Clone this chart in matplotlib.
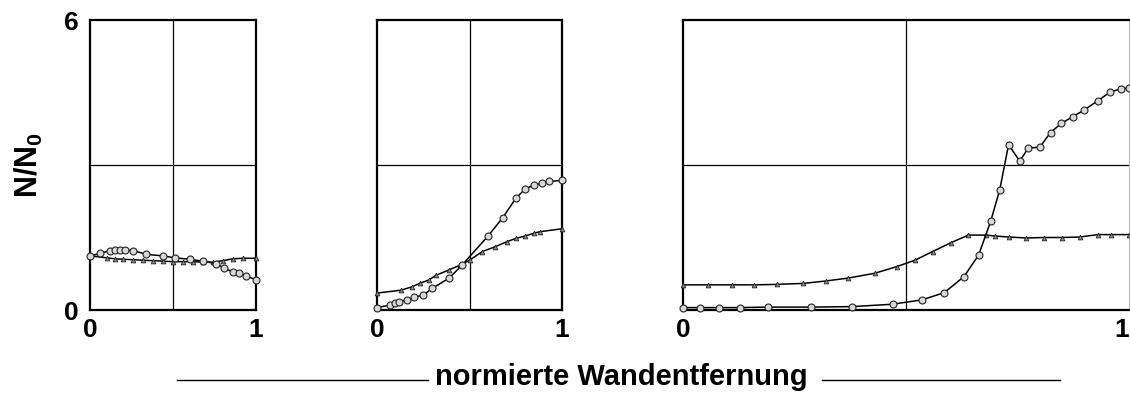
import matplotlib
matplotlib.use("Agg")
import matplotlib.pyplot as plt
from matplotlib.lines import Line2D

plt.rcParams['font.family'] = ['Liberation Sans', 'DejaVu Sans']
plt.rcParams['mathtext.fontset'] = 'custom'
plt.rcParams['mathtext.rm'] = 'Liberation Sans'
plt.rcParams['mathtext.bf'] = 'Liberation Sans:bold'

# panel 1 - nearly flat profiles
p1_circ_x = [0.0, 0.06, 0.12, 0.15, 0.18, 0.21, 0.26, 0.34, 0.44, 0.51, 0.60, 0.68, 0.76, 0.81, 0.86, 0.90, 0.94, 1.0]
p1_circ_y = [1.12, 1.17, 1.23, 1.24, 1.24, 1.24, 1.23, 1.15, 1.12, 1.08, 1.05, 1.01, 0.96, 0.86, 0.79, 0.76, 0.70, 0.63]
p1_tri_x = [0.0, 0.10, 0.15, 0.20, 0.26, 0.32, 0.38, 0.44, 0.50, 0.56, 0.62, 0.68, 0.74, 0.80, 0.86, 0.92, 1.0]
p1_tri_y = [1.12, 1.08, 1.06, 1.05, 1.04, 1.03, 1.02, 1.01, 1.00, 1.00, 1.00, 0.99, 0.99, 1.02, 1.06, 1.07, 1.07]

# panel 2 - rising profiles crossing at mid-distance
p2_circ_x = [0.0, 0.07, 0.10, 0.12, 0.16, 0.20, 0.25, 0.30, 0.39, 0.46, 0.60, 0.68, 0.75, 0.80, 0.85, 0.89, 0.93, 1.0]
p2_circ_y = [0.05, 0.10, 0.14, 0.17, 0.21, 0.26, 0.31, 0.45, 0.66, 0.93, 1.53, 1.91, 2.31, 2.50, 2.59, 2.62, 2.66, 2.68]
p2_tri_x = [0.0, 0.13, 0.19, 0.23, 0.28, 0.32, 0.39, 0.45, 0.50, 0.57, 0.64, 0.70, 0.75, 0.80, 0.85, 0.88, 1.0]
p2_tri_y = [0.35, 0.41, 0.48, 0.55, 0.62, 0.72, 0.83, 0.93, 1.03, 1.21, 1.31, 1.41, 1.48, 1.53, 1.59, 1.62, 1.68]

# panel 3 - wide profile with a steep rise
p3_circ_x = [0.0, 0.038, 0.08, 0.128, 0.19, 0.286, 0.38, 0.47, 0.536, 0.586, 0.63, 0.663, 0.69, 0.71, 0.73,
             0.755, 0.774, 0.80, 0.824, 0.848, 0.874, 0.90, 0.93, 0.958, 0.983, 1.0]
p3_circ_y = [0.05, 0.05, 0.05, 0.05, 0.06, 0.06, 0.07, 0.12, 0.21, 0.36, 0.69, 1.14, 1.84, 2.48, 3.42,
             3.08, 3.35, 3.37, 3.67, 3.86, 4.00, 4.14, 4.33, 4.51, 4.58, 4.59]
p3_tri_x = [0.0, 0.057, 0.11, 0.16, 0.21, 0.27, 0.32, 0.37, 0.43, 0.48, 0.52, 0.56, 0.60, 0.64, 0.68,
            0.70, 0.73, 0.77, 0.81, 0.85, 0.89, 0.93, 0.96, 1.0]
p3_tri_y = [0.52, 0.52, 0.52, 0.52, 0.53, 0.55, 0.60, 0.66, 0.76, 0.90, 1.03, 1.21, 1.39, 1.55, 1.55,
            1.53, 1.51, 1.49, 1.50, 1.50, 1.51, 1.56, 1.56, 1.56]

panels = [
    ([90, 256], p1_circ_x, p1_circ_y, p1_tri_x, p1_tri_y),
    ([377, 562], p2_circ_x, p2_circ_y, p2_tri_x, p2_tri_y),
    ([683, 1129], p3_circ_x, p3_circ_y, p3_tri_x, p3_tri_y),
]

W, H = 1130, 408
fig = plt.figure(figsize=(W / 100, H / 100), dpi=100)
fig.patch.set_facecolor('white')

tick_font = dict(fontsize=19, fontweight='heavy')

for i, (xr, cx, cy, tx, ty) in enumerate(panels):
    left = xr[0] / W
    width = (xr[1] - xr[0]) / W
    ax = fig.add_axes([left, (H - 310) / H, width, 290 / H])
    ax.set_xlim(0, 1)
    ax.set_ylim(0, 6)
    ax.axvline(0.5, color='black', lw=0.9, zorder=1)
    ax.axhline(3, color='black', lw=0.9, zorder=1)

    ax.plot(tx, ty, color='black', lw=1.1, marker='^', ms=3.4,
            mfc='#8a8a8a', mec='#222222', mew=0.6, zorder=3, clip_on=False)
    ax.plot(cx, cy, color='black', lw=1.1, marker='o', ms=5.0,
            mfc='#d8d8d8', mec='#222222', mew=0.8, zorder=4, clip_on=False)

    for side in ['left', 'bottom', 'top']:
        ax.spines[side].set_linewidth(1.6)
    ax.spines['right'].set_linewidth(1.6 if i < 2 else 0.6)
    if i == 2:
        ax.spines['right'].set_color('#aaaaaa')

    ax.set_xticks([0, 1])
    ax.set_xticklabels(['0', '1'], **tick_font)
    if i == 2:
        # last label sits on the figure edge
        ax.get_xticklabels()[1].set_horizontalalignment('right')
    if i == 0:
        ax.set_yticks([0, 6])
        ax.set_yticklabels(['0', '6'], **tick_font)
        ax.set_ylabel(r'$\mathbf{N/N_0}$', fontsize=22, labelpad=14)
    else:
        ax.set_yticks([])
    ax.tick_params(axis='x', length=0, pad=6)
    ax.tick_params(axis='y', length=0, pad=8)

# shared axis caption with rules on each side
fig.text(621 / W, 1 - 377 / H, 'normierte Wandentfernung', ha='center', va='center',
         fontsize=21, fontweight='bold')
for x0, x1 in [(177, 428), (822, 1060)]:
    fig.add_artist(Line2D([x0 / W, x1 / W], [1 - 380 / H, 1 - 380 / H],
                          color='black', lw=1.0, transform=fig.transFigure))

fig.savefig('out.png', dpi=100)
